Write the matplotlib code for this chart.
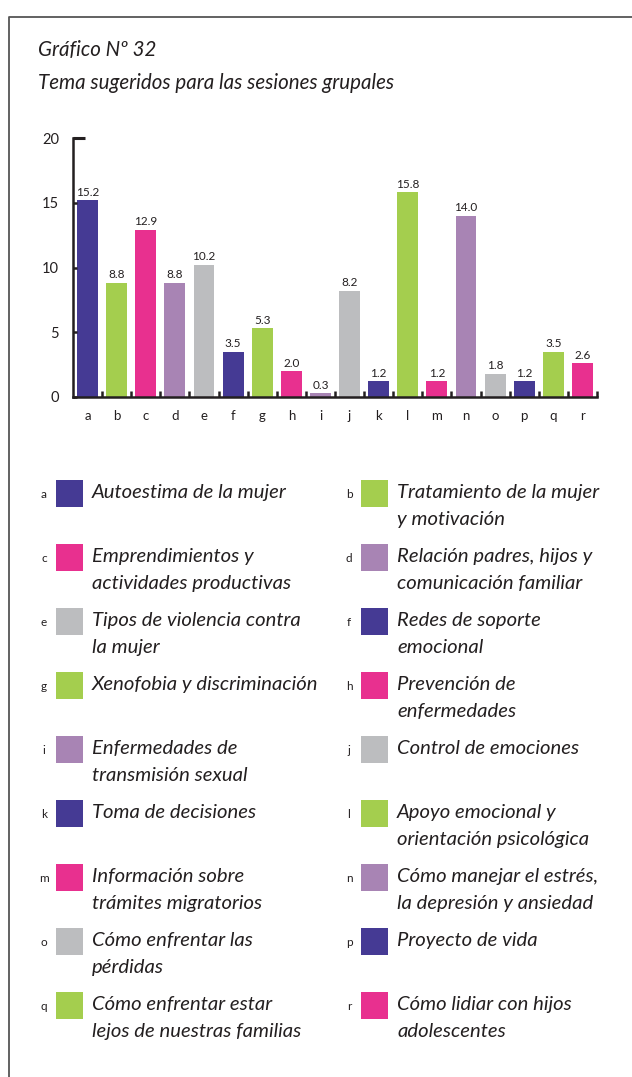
import matplotlib.pyplot as plt
import matplotlib.transforms as mtransforms
from matplotlib.patches import Rectangle

letters = ['a', 'b', 'c', 'd', 'e', 'f', 'g', 'h', 'i', 'j', 'k', 'l', 'm', 'n', 'o', 'p', 'q', 'r']
values = [15.2, 8.8, 12.9, 8.8, 10.2, 3.5, 5.3, 2.0, 0.3, 8.2, 1.2, 15.8, 1.2, 14.0, 1.8, 1.2, 3.5, 2.6]
topics = [
    "Autoestima de la mujer",
    "Tratamiento de la mujer\ny motivación",
    "Emprendimientos y\nactividades productivas",
    "Relación padres, hijos y\ncomunicación familiar",
    "Tipos de violencia contra\nla mujer",
    "Redes de soporte\nemocional",
    "Xenofobia y discriminación",
    "Prevención de\nenfermedades",
    "Enfermedades de\ntransmisión sexual",
    "Control de emociones",
    "Toma de decisiones",
    "Apoyo emocional y\norientación psicológica",
    "Información sobre\ntrámites migratorios",
    "Cómo manejar el estrés,\nla depresión y ansiedad",
    "Cómo enfrentar las\npérdidas",
    "Proyecto de vida",
    "Cómo enfrentar estar\nlejos de nuestras familias",
    "Cómo lidiar con hijos\nadolescentes",
]
yticks = [0, 5, 10, 15, 20]

navy = '#453a94'
green = '#a4ce4e'
pink = '#e8308f'
lav = '#a884b4'
grey = '#bcbdbf'
palette = [navy, green, pink, lav, grey]
colors = [palette[i % 5] for i in range(len(letters))]
ink = '#231f20'
font = 'Lato'

W, H = 632, 1077
fig = plt.figure(figsize=(W / 100, H / 100), dpi=100)

# chart axes, placed in pixel terms
left, right, top, bottom = 73, 597, 138, 397
ax = fig.add_axes([left / W, 1 - bottom / H, (right - left) / W, (bottom - top) / H])
x = list(range(len(letters)))
ax.bar(x, values, width=0.72, color=colors)
for xi, v in zip(x, values):
    ax.text(xi, v + 0.2, f"{v:.1f}", ha='center', va='bottom', fontsize=8.5,
            color=ink, family=font)
ax.set_xlim(-0.5, len(letters) - 0.5)
ax.set_ylim(0, 20)
ax.set_yticks(yticks)
ax.set_yticklabels([str(t) for t in yticks], fontsize=10.5, color=ink, family=font)
ax.set_xticks(x)
ax.set_xticklabels(letters, fontsize=9.5, color=ink, family=font)
ax.set_xticks([i + 0.5 for i in x], minor=True)
ax.tick_params(axis='x', which='major', length=0, pad=9)
ax.tick_params(axis='x', which='minor', direction='in', length=4, width=1.8, color=ink)
ax.tick_params(axis='y', direction='in', length=3, width=1.8, color=ink, pad=10)
for s in ['top', 'right']:
    ax.spines[s].set_visible(False)
for s in ['left', 'bottom']:
    ax.spines[s].set_linewidth(1.8)
    ax.spines[s].set_color(ink)
trans = mtransforms.blended_transform_factory(ax.transAxes, ax.transData)
ax.plot([0, 0.023], [20, 20], color=ink, lw=2.2, transform=trans, clip_on=False,
        solid_capstyle='butt')

# overlay in pixel coordinates for frame, title and legend
ov = fig.add_axes([0, 0, 1, 1], zorder=-1)
ov.set_xlim(0, W)
ov.set_ylim(H, 0)
ov.axis('off')
ov.plot([8.5, 8.5, W], [H, 16.5, 16.5], color='#555555', lw=1.3)

ov.text(38, 50, "Gráfico Nº 32", fontsize=14.8, style='italic', color=ink,
        family=font, va='center')
ov.text(38, 83, "Tema sugeridos para las sesiones grupales", fontsize=14.8,
        style='italic', color=ink, family=font, va='center')

for i, (lt, txt, c) in enumerate(zip(letters, topics, colors)):
    col, row = i % 2, i // 2
    x0 = 44 if col == 0 else 349
    yc = 493 + row * 64
    ov.text(x0, yc + 2, lt, fontsize=8.5, color=ink, family=font, ha='center', va='center')
    ov.add_patch(Rectangle((x0 + 12, yc - 13.5), 27, 27, color=c, lw=0))
    ov.text(x0 + 48, yc - 9, txt, fontsize=14.6, style='italic', color=ink,
            family=font, va='top', linespacing=1.72)

fig.savefig('out.png', dpi=100, facecolor='white')
